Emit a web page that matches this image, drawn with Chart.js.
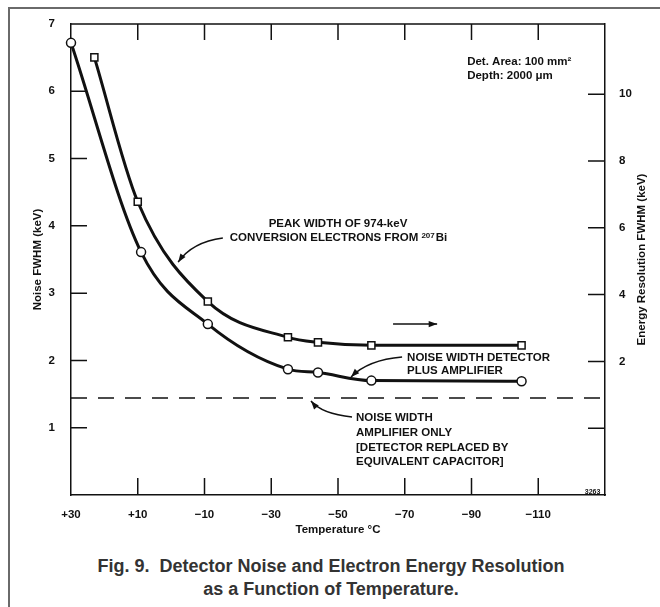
<!DOCTYPE html>
<html>
<head>
<meta charset="utf-8">
<script src="https://cdn.jsdelivr.net/npm/chart.js@4.4.1/dist/chart.umd.min.js"></script>
<style>
  html, body { margin: 0; padding: 0; background: #fff; }
  #wrap { position: relative; width: 660px; height: 607px; overflow: hidden; }
  #frame { position: absolute; left: 8px; top: 7px; width: 660px; height: 610px;
           border-left: 2px solid #6a6a6a; border-top: 2px solid #6a6a6a; }
  #chart { position: absolute; left: 0; top: 0; }
  #caption { position: absolute; left: 0; top: 555px; width: 662px; text-align: center;
             font: bold 18px "Liberation Sans", Arial, sans-serif; color: #333; line-height: 23px; }
</style>
</head>
<body>
<div id="wrap">
  <div id="frame"></div>
  <canvas id="chart" width="660" height="545"></canvas>
  <div id="caption">Fig. 9.&nbsp; Detector Noise and Electron Energy Resolution<br>as a Function of Temperature.</div>
</div>
<script>
// Temperatura (°C) e larguras medidas
const tempNoise = [30, 9, -11, -35, -44, -60, -105];
const noiseFwhm = [6.72, 3.61, 2.54, 1.87, 1.82, 1.70, 1.69];     // eixo esquerdo
const tempPeak  = [23, 10, -11, -35, -44, -60, -105];
const peakFwhm  = [11.1, 6.78, 3.79, 2.72, 2.57, 2.48, 2.48];     // eixo direito
const tempAmp   = [30, -130];
const ampOnly   = [1.44, 1.44];

const xTicks  = [30, 10, -10, -30, -50, -70, -90, -110];
const yTicks  = [1, 2, 3, 4, 5, 6, 7];
const y2Ticks = [0, 2, 4, 6, 8, 10];

Chart.defaults.font.family = '"Liberation Sans", Arial, sans-serif';
Chart.defaults.color = '#111';

const INK = '#111';
const FONT = '"Liberation Sans", Arial, sans-serif';
const tickFont = { size: 11.5, weight: 'bold' };

function arrow(ctx, x0, y0, cx, cy, x1, y1) {
  ctx.beginPath();
  ctx.moveTo(x0, y0);
  ctx.quadraticCurveTo(cx, cy, x1, y1);
  ctx.stroke();
  const a = Math.atan2(y1 - cy, x1 - cx);
  ctx.beginPath();
  ctx.moveTo(x1, y1);
  ctx.lineTo(x1 - 9 * Math.cos(a - 0.35), y1 - 9 * Math.sin(a - 0.35));
  ctx.lineTo(x1 - 9 * Math.cos(a + 0.35), y1 - 9 * Math.sin(a + 0.35));
  ctx.closePath();
  ctx.fill();
}

// marcas internas, notas e setas
const extras = {
  id: 'extras',
  afterDraw(chart) {
    const { ctx, chartArea: a, scales } = chart;
    const xs = scales.x, ys = scales.y, y2 = scales.y2;
    const X = t => xs.getPixelForValue(t), Y = v => ys.getPixelForValue(v);
    ctx.save();
    ctx.strokeStyle = INK;
    ctx.fillStyle = INK;
    ctx.lineWidth = 1.5;
    ctx.beginPath();
    ctx.moveTo(a.left, a.top); ctx.lineTo(a.right, a.top);
    xTicks.slice(1).forEach(t => {
      const px = X(t);
      ctx.moveTo(px, a.bottom); ctx.lineTo(px, a.bottom - 17);
      ctx.moveTo(px, a.top); ctx.lineTo(px, a.top + 16);
    });
    yTicks.forEach(v => { const py = Y(v); ctx.moveTo(a.left, py); ctx.lineTo(a.left + 16, py); });
    y2Ticks.forEach(v => { const py = y2.getPixelForValue(v); ctx.moveTo(a.right, py); ctx.lineTo(a.right - 17, py); });
    ctx.stroke();

    // título do eixo direito, lido de baixo para cima
    ctx.save();
    ctx.font = 'bold 11.5px ' + FONT;
    ctx.textAlign = 'center';
    ctx.textBaseline = 'middle';
    ctx.translate(642, (a.top + a.bottom) / 2);
    ctx.rotate(-Math.PI / 2);
    ctx.fillText('Energy Resolution FWHM (keV)', 0, 0);
    ctx.restore();

    ctx.font = 'bold 11.5px ' + FONT;
    ctx.textBaseline = 'middle';
    ctx.textAlign = 'left';
    ctx.fillText('Det. Area: 100 mm\u00B2', X(-88.7), Y(6.435));
    ctx.fillText('Depth: 2000 \u03BCm', X(-88.7), Y(6.227));
    ctx.fillText('NOISE WIDTH DETECTOR', X(-70.7), Y(2.036));
    ctx.fillText('PLUS AMPLIFIER', X(-70.7), Y(1.843));
    ctx.fillText('NOISE WIDTH', X(-55.4), Y(1.145));
    ctx.fillText('AMPLIFIER ONLY', X(-55.4), Y(0.922));
    ctx.fillText('[DETECTOR REPLACED BY', X(-55.4), Y(0.699));
    ctx.fillText('EQUIVALENT CAPACITOR]', X(-55.4), Y(0.491));
    ctx.textAlign = 'center';
    ctx.fillText('PEAK WIDTH OF 974-keV', X(-50), Y(4.03));
    // segunda linha com sobrescrito 207
    const s1 = 'CONVERSION ELECTRONS FROM ', s2 = '207', s3 = 'Bi';
    ctx.textAlign = 'left';
    const w1 = ctx.measureText(s1).width, w3 = ctx.measureText(s3).width;
    ctx.font = 'bold 8px ' + FONT;
    const w2 = ctx.measureText(s2).width;
    let sx = X(-50) - (w1 + w2 + w3) / 2;
    const sy = Y(3.82);
    ctx.font = 'bold 11.5px ' + FONT;
    ctx.fillText(s1, sx, sy);
    ctx.font = 'bold 8px ' + FONT;
    ctx.fillText(s2, sx + w1, sy - 2);
    ctx.font = 'bold 11.5px ' + FONT;
    ctx.fillText(s3, sx + w1 + w2 + 1, sy);

    ctx.textAlign = 'right';
    ctx.font = 'bold 7px ' + FONT;
    ctx.fillText('3263', X(-128.6), Y(0.05));

    ctx.lineWidth = 1.5;
    arrow(ctx, X(-15.5), Y(3.82), X(-6.3), Y(3.76), X(-2.1), Y(3.46));
    arrow(ctx, X(-69.2), Y(2.05), X(-59), Y(2.007), X(-53.9), Y(1.754));
    arrow(ctx, X(-54.2), Y(1.16), X(-45.2), Y(1.204), X(-41.9), Y(1.397));
    arrow(ctx, X(-66.5), Y(2.54), X(-73), Y(2.54), X(-79.7), Y(2.54));
    ctx.restore();
  }
};

new Chart(document.getElementById('chart'), {
  type: 'line',
  data: {
    datasets: [{
      label: 'Noise width detector plus amplifier',
      data: tempNoise.map((t, i) => ({ x: t, y: noiseFwhm[i] })),
      yAxisID: 'y',
      borderColor: INK, borderWidth: 3,
      cubicInterpolationMode: 'monotone',
      pointStyle: 'circle', pointRadius: 4.5,
      pointBackgroundColor: '#fff', pointBorderColor: INK, pointBorderWidth: 1.5,
      clip: false
    }, {
      label: 'Peak width 974-keV',
      data: tempPeak.map((t, i) => ({ x: t, y: peakFwhm[i] })),
      yAxisID: 'y2',
      borderColor: INK, borderWidth: 3,
      cubicInterpolationMode: 'monotone',
      pointStyle: 'rect', pointRadius: 5,
      pointBackgroundColor: '#fff', pointBorderColor: INK, pointBorderWidth: 1.5,
      clip: false
    }, {
      label: 'Noise width amplifier only',
      data: tempAmp.map((t, i) => ({ x: t, y: ampOnly[i] })),
      yAxisID: 'y',
      borderColor: INK, borderWidth: 1.5, borderDash: [16, 11],
      pointRadius: 0
    }]
  },
  options: {
    responsive: false,
    animation: false,
    devicePixelRatio: 1,
    layout: { padding: { top: 24, left: 0, right: 0, bottom: 0 } },
    plugins: { legend: { display: false }, tooltip: { enabled: false } },
    scales: {
      x: {
        type: 'linear', reverse: true, min: -130, max: 30,
        afterBuildTicks: s => { s.ticks = xTicks.map(v => ({ value: v })); },
        afterFit: s => { s.height = 50; },
        grid: { display: false },
        border: { display: true, color: INK, width: 1.5 },
        ticks: { font: tickFont, color: INK, padding: 5, maxRotation: 0,
                 callback: v => v > 0 ? '+' + v : '\u2212' + Math.abs(v) },
        title: { display: true, text: 'Temperature \u00B0C', font: tickFont, color: INK, padding: { bottom: 8 } }
      },
      y: {
        position: 'left', min: 0, max: 7,
        afterBuildTicks: s => { s.ticks = yTicks.map(v => ({ value: v })); },
        afterFit: s => { s.width = 71; },
        grid: { display: false },
        border: { display: true, color: INK, width: 1.5 },
        ticks: { font: tickFont, color: INK, padding: 8 },
        title: { display: true, text: 'Noise FWHM (keV)', font: tickFont, color: INK, padding: { top: 31 } }
      },
      y2: {
        position: 'right', min: -2, max: 12.1,
        afterBuildTicks: s => { s.ticks = y2Ticks.map(v => ({ value: v })); },
        afterFit: s => { s.width = 55; },
        grid: { display: false },
        border: { display: true, color: INK, width: 1.5 },
        ticks: { font: tickFont, color: INK, padding: 6, callback: v => v === 0 ? '' : String(v) },
        title: { display: false }
      }
    }
  },
  plugins: [extras]
});
</script>
</body>
</html>
